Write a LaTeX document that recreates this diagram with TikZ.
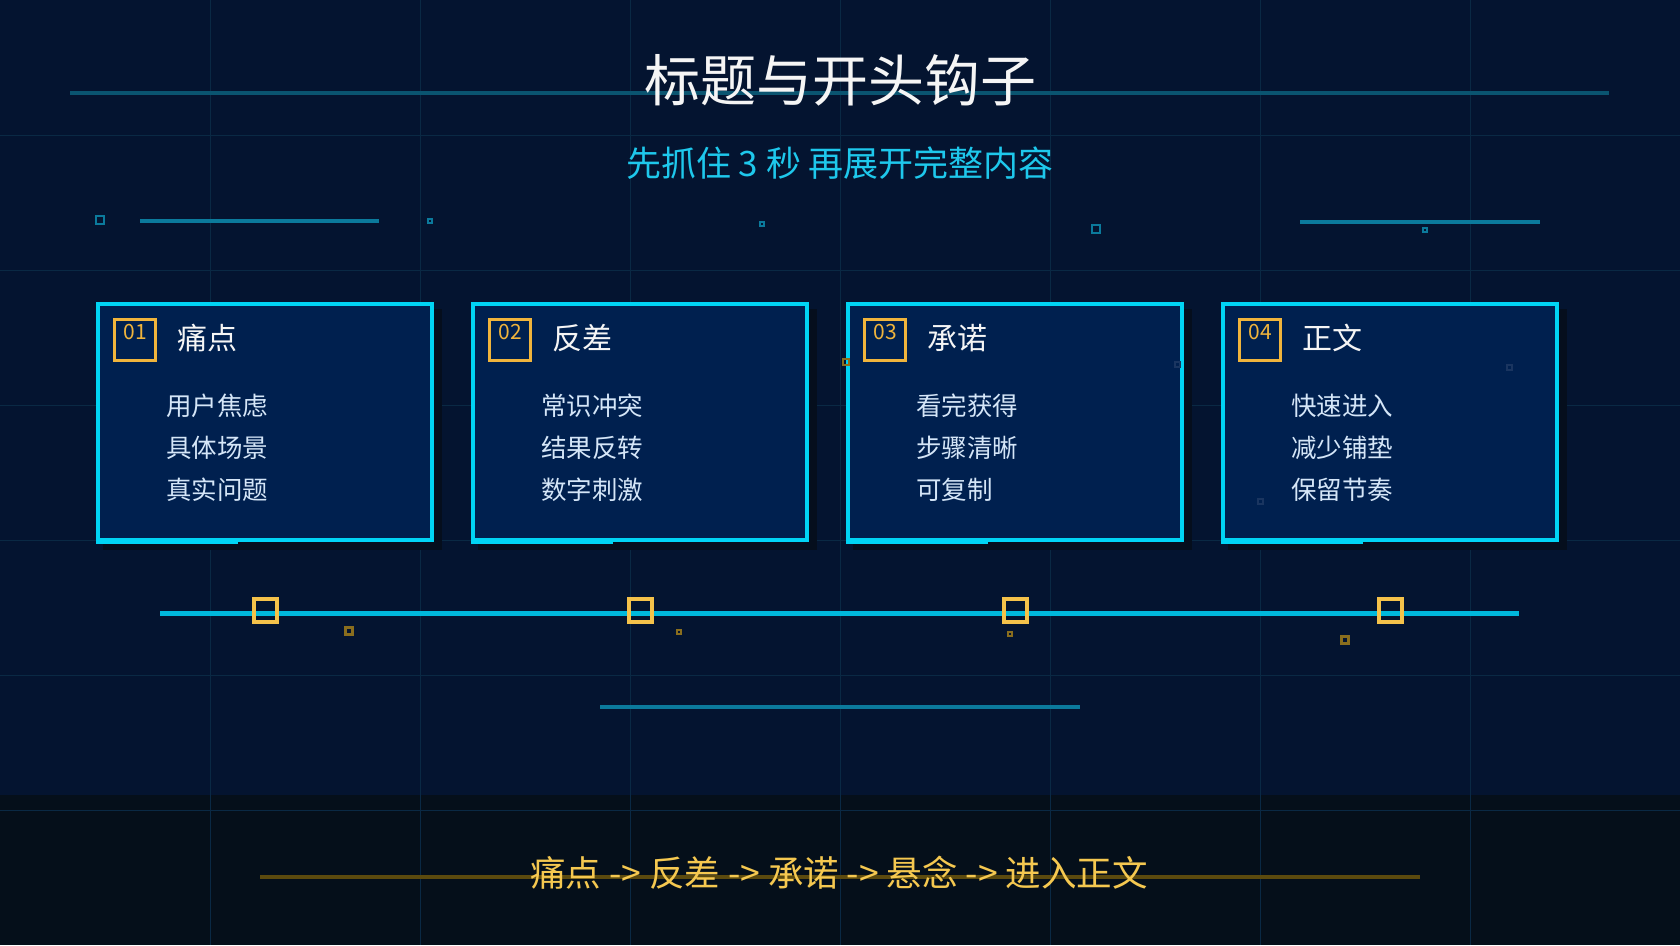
\documentclass[tikz,border=0pt]{standalone}
\usepackage{fontspec}
\setmainfont{Noto Sans CJK SC}
\definecolor{bgc}{HTML}{041430}
\definecolor{bandc}{HTML}{050F1A}
\definecolor{gridc}{HTML}{0A2944}
\definecolor{cardfill}{HTML}{00204F}
\definecolor{cardedge}{HTML}{00D4F5}
\definecolor{shadowc}{HTML}{050E1D}
\definecolor{badgec}{HTML}{F0B43C}
\definecolor{titlec}{HTML}{F5F5F5}
\definecolor{subc}{HTML}{1EC8EC}
\definecolor{tealc}{HTML}{0B7A9C}
\definecolor{titleline}{HTML}{0A5470}
\definecolor{timelinec}{HTML}{00B8DC}
\definecolor{markc}{HTML}{F5C24A}
\definecolor{dimmark}{HTML}{8A6E1E}
\definecolor{flowc}{HTML}{F5C850}
\definecolor{flowline}{HTML}{5C4A0E}
\definecolor{itemc}{HTML}{D5E6F8}
\definecolor{faintc}{HTML}{1A3560}
\tikzset{
  gridline/.style={gridc, line width=1pt},
  txt/.style={inner sep=0pt, outer sep=0pt},
  titletext/.style={txt, text=titlec, font=\fontsize{56}{60}\selectfont},
  subtext/.style={txt, text=subc, font=\fontsize{35}{40}\selectfont},
  cardbox/.style={draw=cardedge, fill=cardfill, line width=4pt, minimum width=334pt, minimum height=236pt, inner sep=0pt},
  badgebox/.style={draw=badgec, line width=3pt, minimum size=41pt, inner sep=0pt},
  numtext/.style={txt, text=badgec, font=\fontsize{21}{24}\selectfont},
  headtext/.style={txt, anchor=west, text=titlec, font=\fontsize{30}{34}\selectfont},
  itemtext/.style={txt, anchor=west, text=itemc, font=\fontsize{25.5}{30}\selectfont},
  markbox/.style={draw=markc, line width=4pt, minimum size=23pt, inner sep=0pt},
  decosq/.style={draw=tealc, line width=2.5pt, inner sep=0pt},
  dimsq/.style={draw=dimmark, line width=2.5pt, inner sep=0pt},
  faintsq/.style={draw=faintc, line width=2pt, inner sep=0pt, minimum size=5pt},
  decoline/.style={tealc, line width=4pt},
  flowtext/.style={txt, text=flowc, font=\fontsize{35.5}{40}\selectfont},
}
\begin{document}
\begin{tikzpicture}[x=1pt,y=-1pt]
\useasboundingbox (0,0) rectangle (1680,945);
\fill[bgc] (0,0) rectangle (1680,945);
\fill[bandc] (0,795) rectangle (1680,945);
\foreach \i in {1,...,7} \draw[gridline] (210*\i,0) -- (210*\i,945);
\foreach \j in {1,...,6} \draw[gridline] (0,135*\j) -- (1680,135*\j);

% title
\coordinate (tl1) at (70,93);
\coordinate (tl2) at (1609,93);
\draw[titleline, line width=4pt] (tl1) -- (tl2);
\node[titletext] (title) at (840,80) {标题与开头钩子};
\node[subtext] (subtitle) at (840,163) {先抓住 3 秒 再展开完整内容};

% top decorations
\coordinate (dl1a) at (140,221); \coordinate (dl1b) at (379,221);
\coordinate (dl2a) at (1300,222); \coordinate (dl2b) at (1540,222);
\draw[decoline] (dl1a) -- (dl1b);
\draw[decoline] (dl2a) -- (dl2b);
\node[decosq, minimum size=8pt] (ds1) at (100,220) {};
\node[decosq, line width=2pt, minimum size=4pt] (ds2) at (430,221) {};
\node[decosq, line width=2pt, minimum size=4pt] (ds3) at (762,224) {};
\node[decosq, minimum size=8pt] (ds4) at (1096,229) {};
\node[decosq, line width=2pt, minimum size=4pt] (ds5) at (1425,230) {};

% cards
\foreach \i/\hd/\ia/\ib/\ic in {1/痛点/用户焦虑/具体场景/真实问题, 2/反差/常识冲突/结果反转/数字刺激, 3/承诺/看完获得/步骤清晰/可复制, 4/正文/快速进入/减少铺垫/保留节奏}{
  \pgfmathsetmacro{\L}{96+375*(\i-1)}
  \fill[shadowc] (\L+7,309) rectangle (\L+346,550);
  \node[cardbox] (card\i) at (\L+169,422) {};
  \draw[cardedge, line width=6pt] (\L,541) -- (\L+142,541);
  \node[badgebox] (badge\i) at (\L+39,339.5) {};
  \node[numtext] (num\i) at (\L+39,332) {0\i};
  \node[headtext] (head\i) at (\L+81,338) {\hd};
  \node[itemtext] (itemA\i) at (\L+70,406) {\ia};
  \node[itemtext] (itemB\i) at (\L+70,448) {\ib};
  \node[itemtext] (itemC\i) at (\L+70,490) {\ic};
}

% faint scattered squares
\node[faintsq] (f1) at (1509,367) {};
\node[faintsq] (f2) at (1177,364) {};
\node[faintsq] (f3) at (1260,501) {};
\node[dimsq, line width=2pt, minimum size=6pt] (f4) at (846,362) {};

% timeline
\coordinate (ts) at (160,613);
\coordinate (te) at (1519,613);
\draw[timelinec, line width=5pt] (ts) -- (te);
\foreach \i in {1,...,4}{
  \pgfmathsetmacro{\L}{96+375*(\i-1)}
  \node[markbox] (mark\i) at (\L+169,610) {};
}
\node[dimsq, minimum size=7pt] (sm1) at (349,631) {};
\node[dimsq, line width=2pt, minimum size=4pt] (sm2) at (679,632) {};
\node[dimsq, line width=2pt, minimum size=4pt] (sm3) at (1010,634) {};
\node[dimsq, minimum size=7pt] (sm4) at (1345,640) {};

% lower line
\coordinate (ll1) at (600,707);
\coordinate (ll2) at (1080,707);
\draw[decoline] (ll1) -- (ll2);

% bottom flow
\coordinate (fl1) at (260,877);
\coordinate (fl2) at (1420,877);
\draw[flowline, line width=4pt] (fl1) -- (fl2);
\node[flowtext] (flow) at (839,873) {痛点 -> 反差 -> 承诺 -> 悬念 -> 进入正文};
\end{tikzpicture}
\end{document}
